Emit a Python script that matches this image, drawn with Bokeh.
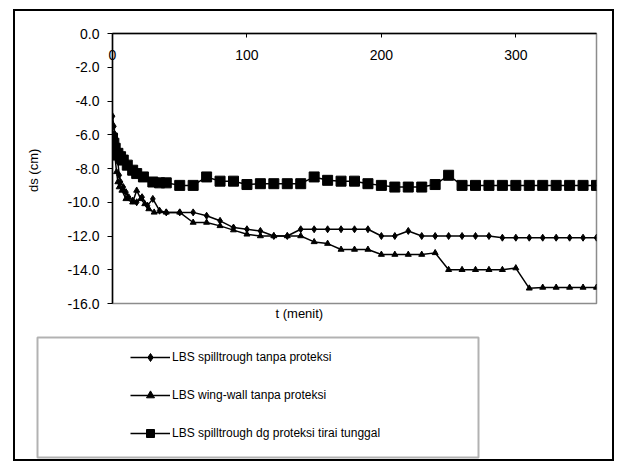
from bokeh.plotting import figure
from bokeh.models import (Range1d, FixedTicker, PrintfTickFormatter, Legend, LegendItem,
                          BoxAnnotation, Title)
from bokeh.embed import file_html
from bokeh.resources import INLINE

# ---- data ----
x_ticks = [0, 100, 200, 300]
y_ticks = [0, -2, -4, -6, -8, -10, -12, -14, -16]

t_spill = [0, 1, 2, 3, 4, 5, 6, 8, 10, 12, 15, 18, 22, 26, 30, 35, 40, 50, 60,
           70, 80, 90, 100, 110, 120, 130, 140, 150, 160, 170, 180, 190, 200, 210,
           220, 230, 240, 250, 260, 270, 280, 290, 300, 310, 320, 330, 340, 350, 360]
ds_spill = [-4.9, -5.5, -6.0, -6.8, -7.6, -8.4, -8.8, -9.1, -9.4, -9.7, -9.9, -10.0,
            -9.7, -10.2, -9.8, -10.5, -10.6, -10.6, -10.6,
            -10.8, -11.1, -11.5, -11.6, -11.7, -12.0, -12.0, -11.6, -11.6, -11.6, -11.6,
            -11.6, -11.6, -12.0, -12.0, -11.7, -12.0, -12.0, -12.0, -12.0, -12.0, -12.0,
            -12.1, -12.1, -12.1, -12.1, -12.1, -12.1, -12.1, -12.1]

t_wing = [0, 1, 2, 3, 4, 5, 7, 10, 15, 18, 21, 24, 27, 31, 40, 50, 60,
          70, 80, 90, 100, 110, 120, 130, 140, 150, 160, 170, 180, 190, 200, 210,
          220, 230, 240, 250, 260, 270, 280, 290, 300, 310, 320, 330, 340, 350, 360]
ds_wing = [-5.9, -6.5, -7.4, -8.2, -8.8, -9.1, -9.3, -9.8, -10.0, -9.3, -9.8, -10.1,
           -10.4, -10.6, -10.6, -10.6, -11.2,
           -11.2, -11.4, -11.65, -11.9, -12.0, -12.0, -12.0, -12.0, -12.35, -12.45,
           -12.8, -12.8, -12.8, -13.1, -13.1, -13.1, -13.1, -13.0, -14.0, -14.0, -14.0,
           -14.0, -14.0, -13.9, -15.1, -15.05, -15.05, -15.05, -15.05, -15.05]

t_tirai = [0, 1, 2, 4, 6, 8, 11, 15, 18, 23, 30, 35, 40, 50, 60,
           70, 80, 90, 100, 110, 120, 130, 140, 150, 160, 170, 180, 190, 200, 210,
           220, 230, 240, 250, 260, 270, 280, 290, 300, 310, 320, 330, 340, 350, 360]
ds_tirai = [-6.2, -6.5, -6.8, -7.1, -7.3, -7.5, -7.8, -8.1, -8.3, -8.5, -8.8, -8.85,
            -8.85, -9.0, -9.0,
            -8.5, -8.75, -8.75, -8.95, -8.9, -8.9, -8.9, -8.9, -8.5, -8.7, -8.75, -8.75,
            -8.9, -9.0, -9.1, -9.1, -9.1, -8.95, -8.4, -9.0, -9.0, -9.0, -9.0, -9.0,
            -9.0, -9.0, -9.0, -9.0, -9.0, -9.0]

labels = ["LBS spilltrough tanpa proteksi",
          "LBS wing-wall tanpa proteksi",
          "LBS spilltrough dg proteksi tirai tunggal"]
x_title = "t   (menit)"
y_title = "ds  (cm)"

FONT = "Liberation Sans"
styles = [dict(marker="diamond", size=7), dict(marker="triangle", size=6),
          dict(marker="square", size=10)]
series = [(t_spill, ds_spill), (t_wing, ds_wing), (t_tirai, ds_tirai)]

# ---- main chart ----
p = figure(width=597, height=322, output_backend="svg", toolbar_location=None,
           x_axis_location="above",
           x_range=Range1d(0, 360), y_range=Range1d(-16, 0),
           min_border_left=97, min_border_right=16, min_border_top=22,
           min_border_bottom=30)
p.grid.grid_line_color = None
p.outline_line_color = "#8c8c8c"
p.outline_line_width = 1.5
p.border_fill_color = "white"
p.background_fill_color = "white"
p.styles = {"margin-left": "15px", "margin-top": "11px",
            "box-shadow": ("-2px 0 0 0 black, 2px 0 0 0 black, "
                           "-2px -2px 0 0 black, 2px -2px 0 0 black")}

xa = p.xaxis[0]
xa.ticker = FixedTicker(ticks=x_ticks)
xa.major_tick_out = 0
xa.major_tick_in = 4
xa.minor_tick_line_color = None
xa.axis_line_width = 1.5
xa.axis_line_color = "black"
xa.major_label_standoff = -26
xa.major_label_text_font = FONT
xa.major_label_text_font_size = "14px"
xa.major_label_text_color = "black"

ya = p.yaxis[0]
ya.ticker = FixedTicker(ticks=y_ticks)
ya.formatter = PrintfTickFormatter(format="%.1f")
ya.major_tick_out = 5
ya.major_tick_in = 0
ya.minor_tick_line_color = None
ya.axis_line_width = 1.5
ya.axis_line_color = "black"
ya.major_label_standoff = 8
ya.major_label_text_font = FONT
ya.major_label_text_font_size = "14px"
ya.major_label_text_color = "black"
ya.axis_label = y_title
ya.axis_label_text_font = FONT
ya.axis_label_text_font_size = "13px"
ya.axis_label_text_font_style = "normal"
ya.axis_label_text_color = "black"
ya.axis_label_standoff = 24

for (tx, dy), st in zip(series, styles):
    p.line(tx, dy, line_color="black", line_width=1.5)
    p.scatter(tx, dy, color="black", **st)

p.add_layout(Title(text=x_title, align="left", offset=163, standoff=0,
                   text_font=FONT, text_font_size="13px", text_font_style="normal",
                   text_color="black"), "below")

# ---- legend panel (series drawn off-range; only their legend glyphs show) ----
q = figure(width=597, height=127, output_backend="svg", toolbar_location=None,
           x_axis_type=None, y_axis_type=None, x_range=Range1d(0, 1),
           y_range=Range1d(0, 1), min_border_left=0, min_border_right=0,
           min_border_top=0, min_border_bottom=0)
q.outline_line_color = None
q.border_fill_color = "white"
q.background_fill_color = "white"
q.styles = {"margin-left": "15px", "margin-top": "-1px",
            "box-shadow": ("-2px 0 0 0 black, 2px 0 0 0 black, "
                           "-2px 2px 0 0 black, 2px 2px 0 0 black")}

items = []
for (tx, dy), st, lab in zip(series, styles, labels):
    rl = q.line(tx, dy, line_color="black", line_width=1.5)
    rm = q.scatter(tx, dy, color="black", **st)
    items.append(LegendItem(label=lab, renderers=[rl, rm]))

legend = Legend(items=items, location=(115, 16), padding=0, spacing=18,
                glyph_width=40, glyph_height=20, label_height=20, label_standoff=2,
                border_line_color=None, background_fill_alpha=0,
                label_text_font=FONT, label_text_font_size="12px",
                label_text_color="black")
q.add_layout(legend)
q.add_layout(BoxAnnotation(left=22, right=463, top=5, bottom=125,
                           left_units="canvas", right_units="canvas",
                           top_units="canvas", bottom_units="canvas",
                           fill_alpha=0, line_color="black", line_width=2))

open("out.html", "w").write(file_html([p, q], INLINE))
